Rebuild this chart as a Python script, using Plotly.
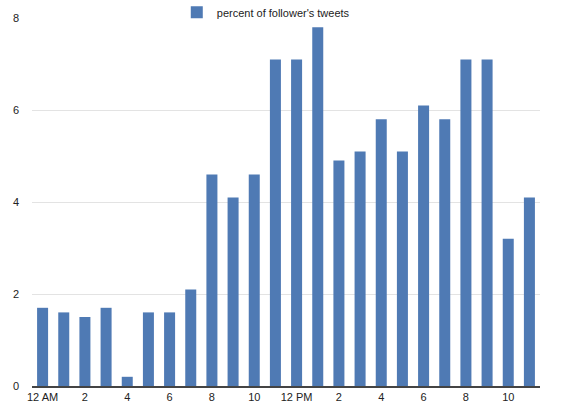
import plotly.graph_objects as go

# hour of day (0 = midnight) and share of follower tweets per hour
hours = list(range(24))
percent = [1.7, 1.6, 1.5, 1.7, 0.2, 1.6, 1.6, 2.1, 4.6, 4.1, 4.6, 7.1,
           7.1, 7.8, 4.9, 5.1, 5.8, 5.1, 6.1, 5.8, 7.1, 7.1, 3.2, 4.1]

tick_hours = [0, 2, 4, 6, 8, 10, 12, 14, 16, 18, 20, 22]
tick_labels = ["12 AM", "2", "4", "6", "8", "10", "12 PM", "2", "4", "6", "8", "10"]

fig = go.Figure()
fig.add_trace(go.Bar(x=hours, y=percent, name="percent of follower's tweets",
                     marker=dict(color="#4f7ab4", line=dict(width=0))))

fig.update_layout(
    width=562, height=403,
    margin=dict(l=32, r=22, t=18, b=17, autoexpand=False),
    paper_bgcolor="white", plot_bgcolor="white",
    font=dict(family="Liberation Sans, Arial, sans-serif", size=11, color="#222"),
    bargap=0.48,
    showlegend=True,
    legend=dict(orientation="h", x=0.285, y=1.055, xanchor="left", yanchor="top",
                bgcolor="rgba(0,0,0,0)", font=dict(size=11)),
)
fig.update_xaxes(range=[-0.5, 23.5], tickmode="array", tickvals=tick_hours,
                 ticktext=tick_labels, showgrid=False, showline=True,
                 linecolor="#444", linewidth=1.5, ticks="", zeroline=False,
                 automargin=False)
fig.update_yaxes(range=[0, 8], tickvals=[0, 2, 4, 6, 8], showgrid=True,
                 gridcolor="#e3e3e3", gridwidth=1, zeroline=False,
                 ticklabelstandoff=12, showline=False, automargin=False)

# page body has a default 8px margin; drop it so the figure fills the window
fig.write_html("out.html", config={"displayModeBar": False},
               post_script="document.body.style.margin='0';")
